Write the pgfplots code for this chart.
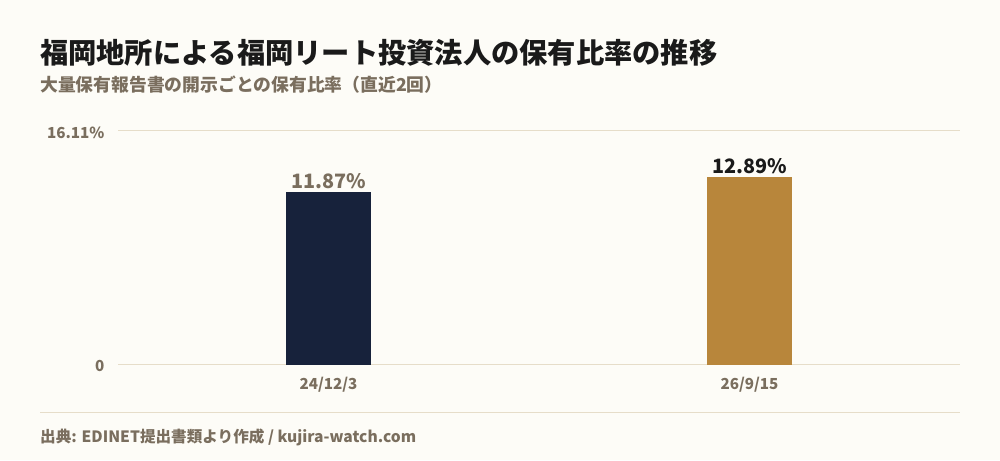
\documentclass[border=0pt]{standalone}
\usepackage{fontspec}
\setmainfont{Noto Sans CJK JP}
\usepackage{pgfplots}
\pgfplotsset{compat=1.18}

\definecolor{bgcol}{HTML}{FDFCF7}
\definecolor{navy}{HTML}{17223B}
\definecolor{gold}{HTML}{B8863B}
\definecolor{gridcol}{HTML}{E6DDC9}
\definecolor{mute}{HTML}{7A6E5E}
\definecolor{ink}{HTML}{1A1A1A}

\begin{document}
\begin{tikzpicture}[x=1pt,y=1pt]
\fill[bgcol] (0,0) rectangle (1000,460);
\path[use as bounding box] (0,0) rectangle (1000,460);

\node[anchor=base west,inner sep=0,text=ink,font=\fontsize{28.25}{30}\selectfont\bfseries] at (40,396) {福岡地所による福岡リート投資法人の保有比率の推移};
\node[anchor=base west,inner sep=0,text=mute,font=\fontsize{17.8}{20}\selectfont\bfseries] at (40,368) {大量保有報告書の開示ごとの保有比率（直近2回）};

\begin{axis}[
	at={(118pt,96pt)}, anchor=south west,
	scale only axis,
	width=842pt, height=233pt,
	xmin=-0.5, xmax=1.5,
	ymin=0, ymax=16.11,
	axis line style={draw=none},
	tick style={draw=none},
	xtick={0,1},
	xticklabels={24/12/3, 26/9/15},
	ytick={0,16.11},
	yticklabels={0, 16.11\%},
	ymajorgrids,
	major grid style={gridcol, line width=1pt},
	ticklabel style={text=mute, font=\fontsize{15.2}{17}\selectfont\bfseries},
	yticklabel style={xshift=-10pt, yshift=-2pt},
	xticklabel style={yshift=-5pt},
	/pgf/number format/assume math mode=true,
	ybar, bar width=84pt, bar shift=0pt,
	nodes near coords={\pgfmathprintnumber[fixed,fixed zerofill,precision=2]{\pgfplotspointmeta}\%},
	nodes near coords style={font=\fontsize{19.8}{22}\selectfont\bfseries, yshift=0pt},
]
\addplot[fill=navy, draw=navy, nodes near coords style={text=mute}]
	coordinates {(0,11.87)};
\addplot[fill=gold, draw=gold, nodes near coords style={text=ink}]
	coordinates {(1,12.89)};
\end{axis}

\draw[gridcol, line width=1pt] (40,47) -- (960,47);
\node[anchor=base west,inner sep=0,text=mute,font=\fontsize{15.6}{18}\selectfont\bfseries] at (40,17) {出典: EDINET提出書類より作成 / kujira-watch.com};
\end{tikzpicture}
\end{document}
